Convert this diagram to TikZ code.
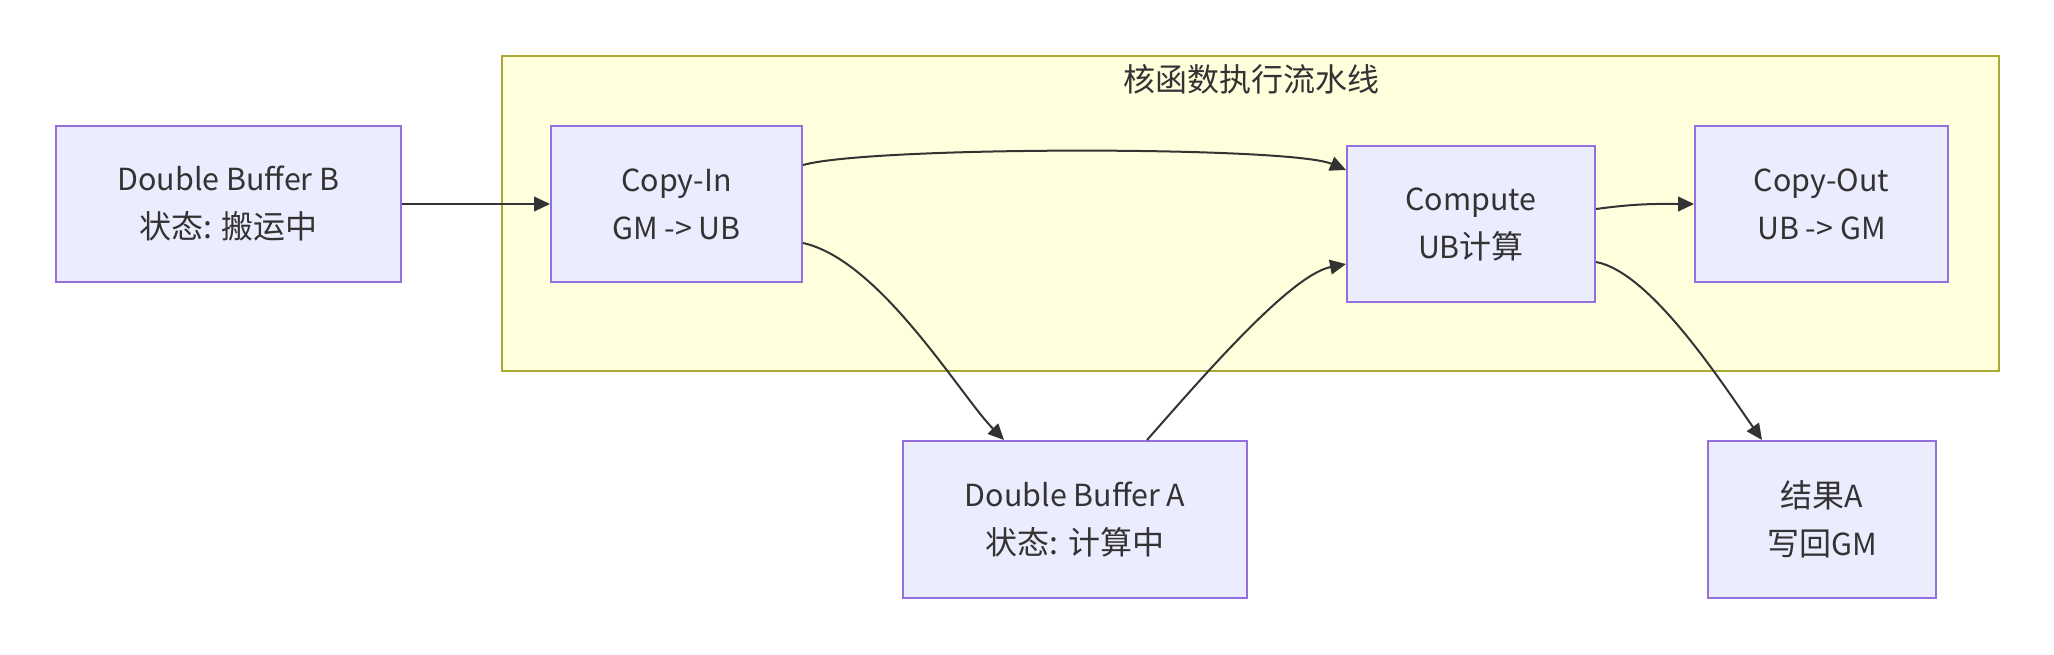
\documentclass[tikz,border=0pt]{standalone}
\usepackage{fontspec}
\setmainfont{Noto Sans CJK SC}
\newfontfamily\lat[Scale=0.95]{Noto Sans CJK SC}
\usetikzlibrary{arrows.meta}
\definecolor{boxfill}{HTML}{ECECFF}
\definecolor{boxline}{HTML}{9370DB}
\definecolor{clfill}{HTML}{FFFFDE}
\definecolor{clline}{HTML}{AAAA33}
\definecolor{txt}{HTML}{333333}
\tikzset{
  stepbox/.style={draw=boxline, fill=boxfill, line width=1.5pt, text=txt,
    align=center, inner sep=0pt, font=\fontsize{24}{36}\selectfont,
    minimum height=117pt},
  conn/.style={draw=txt, line width=1.5pt, -{Triangle[length=12pt,width=11pt]}},
}
\begin{document}
\begin{tikzpicture}[x=0.75pt,y=-0.75pt]
\useasboundingbox (0,0) rectangle (2054,654);
% cluster
\draw[draw=clline, fill=clfill, line width=1.5pt] (502,56) rectangle (1999,371);
\node[text=txt, font=\fontsize{24}{30}\selectfont] (title) at (1251,79) {核函数执行流水线};
% nodes
\node[stepbox, minimum width=258.75pt] (dbb) at (228.5,204) {{\lat Double Buffer B}\\状态: 搬运中};
\node[stepbox, minimum width=188.25pt] (cin) at (676.5,204) {{\lat Copy-In}\\{\lat GM -> UB}};
\node[stepbox, minimum width=186pt] (comp) at (1471,224) {{\lat Compute}\\{\lat UB}计算};
\node[stepbox, minimum width=189.75pt] (cout) at (1821.5,204) {{\lat Copy-Out}\\{\lat UB -> GM}};
\node[stepbox, minimum width=258pt, minimum height=117.75pt] (dba) at (1075,519.5) {{\lat Double Buffer A}\\状态: 计算中};
\node[stepbox, minimum width=171pt, minimum height=117.75pt] (res) at (1822,519.5) {结果{\lat A}\\写回{\lat GM}};
% connectors
\draw[conn] (dbb) -- (cin);
\draw[conn] ([yshift=29.25pt]cin.east) .. controls (870,146) and (1290,146) .. ([yshift=40.5pt]comp.west);
\draw[conn] ([yshift=-29.25pt]cin.east) .. controls (880,260) and (960,395) .. ([xshift=-53.25pt]dba.north);
\draw[conn] ([xshift=54pt]dba.north) .. controls (1200,380) and (1290,275) .. ([yshift=-30pt]comp.west);
\draw[conn] ([yshift=11.25pt]comp.east) .. controls (1640,203) and (1660,204) .. (cout.west);
\draw[conn] ([yshift=-28.5pt]comp.east) .. controls (1650,272) and (1720,380) .. ([xshift=-45pt]res.north);
\end{tikzpicture}
\end{document}
